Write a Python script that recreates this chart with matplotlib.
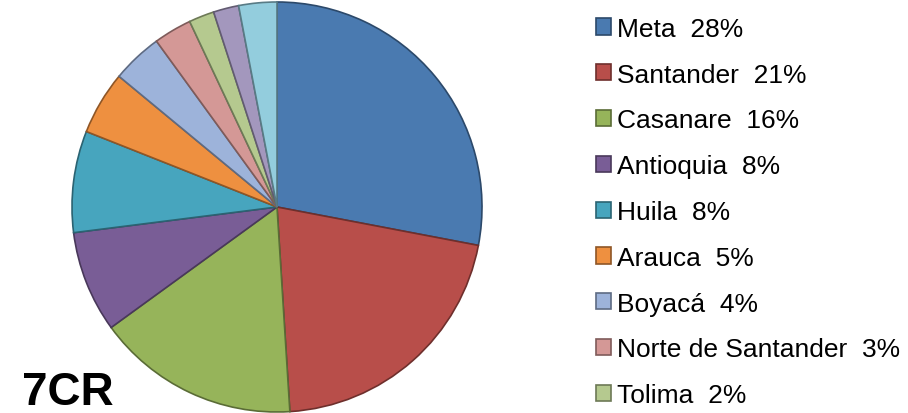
import matplotlib
matplotlib.use("Agg")
import matplotlib.pyplot as plt
from matplotlib.colors import to_rgb

# participacion por departamento (%)
departamentos = ['Meta', 'Santander', 'Casanare', 'Antioquia', 'Huila', 'Arauca',
                 'Boyacá', 'Norte de Santander', 'Tolima', 'Cundinamarca', 'Otros']
valores = [28, 21, 16, 8, 8, 5, 4, 3, 2, 2, 3]
colores = ['#4A7AB0', '#B84E4A', '#96B45A', '#795D96', '#47A5BE', '#EE9040',
           '#9DB3DA', '#D49896', '#B5C98F', '#A397BD', '#93CDDD']
n_leyenda = 9  # la leyenda queda cortada en Tolima

plt.rcParams['font.family'] = ['Liberation Sans', 'DejaVu Sans']

def oscuro(c, f=0.6):
    r, g, b = to_rgb(c)
    return (r * f, g * f, b * f)

fig = plt.figure(figsize=(9.08, 4.14), dpi=100)
ax = fig.add_axes([72 / 908, 1 / 414, 410 / 908, 410 / 414])

wedges, _ = ax.pie(valores, colors=colores, startangle=90, counterclock=False,
                   radius=1.0, wedgeprops=dict(linewidth=1.2))
for w, c in zip(wedges, colores):
    w.set_edgecolor(oscuro(c))
ax.set_xlim(-1.0, 1.0)
ax.set_ylim(-1.0, 1.0)
ax.set_aspect('equal')
ax.axis('off')

etiquetas = [f'{d}  {v}%' for d, v in zip(departamentos, valores)]
ax.legend(wedges[:n_leyenda], etiquetas[:n_leyenda],
          loc='upper left', bbox_to_anchor=(588 / 908, 1 - 10 / 414), bbox_transform=fig.transFigure,
          frameon=False, fontsize=19, labelspacing=0.825, handlelength=0.57,
          handleheight=0.57, handletextpad=0.22, borderpad=0.3, borderaxespad=0)

fig.text(22 / 908, 9 / 414, '7CR', fontsize=33, fontweight='bold', ha='left', va='baseline')

fig.savefig('out.png', dpi=100)
